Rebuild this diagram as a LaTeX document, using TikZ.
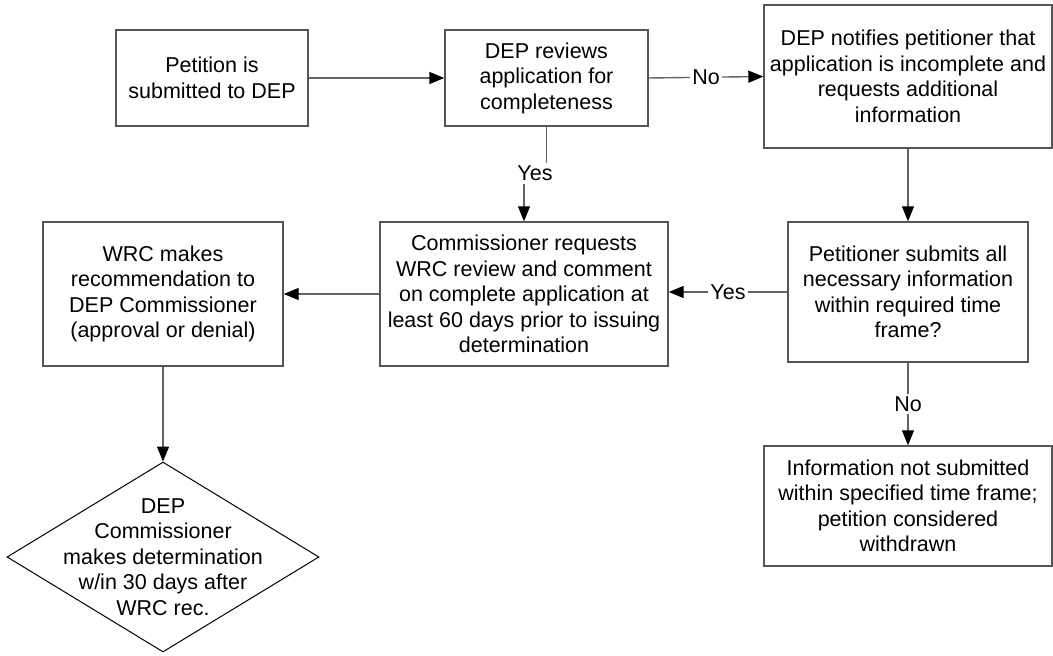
\documentclass[tikz,border=0pt]{standalone}
\usepackage{fontspec}
\setmainfont{Liberation Sans}
\usetikzlibrary{arrows.meta,shapes.geometric}
\definecolor{boxgray}{RGB}{85,85,85}
\definecolor{linegray}{RGB}{100,100,100}
\tikzset{
  box/.style={draw=boxgray, line width=1.4pt, align=center, inner sep=0pt,
    font=\fontsize{21.5}{25.5}\selectfont, text=black},
  txt/.style={align=center, inner sep=0pt, font=\fontsize{21.5}{25.5}\selectfont, text=black},
  conn/.style={draw=linegray, line width=1.4pt, -{Triangle[length=15pt,width=12pt,color=black]}},
  plain/.style={draw=linegray, line width=1.4pt},
  lbl/.style={fill=white, inner sep=2.5pt, font=\fontsize{21.5}{25.5}\selectfont, text=black},
}
\begin{document}
\begin{tikzpicture}[x=1pt,y=-1pt]
\useasboundingbox (0,0) rectangle (1053,656);

\node[box, minimum width=192pt, minimum height=96pt] (b1) at (212,78)
  {Petition is\\submitted to DEP};
\node[box, minimum width=203pt, minimum height=96pt] (b2) at (546.5,78)
  {DEP reviews\\application for\\completeness};
\node[box, minimum width=288pt, minimum height=143pt] (b3) at (908,76.5)
  {DEP notifies petitioner that\\application is incomplete and\\requests additional\\information};
\node[box, minimum width=240pt, minimum height=140pt] (b4) at (908,292)
  {Petitioner submits all\\necessary information\\within required time\\frame?};
\node[box, minimum width=288pt, minimum height=120pt] (b5) at (908,506)
  {Information not submitted\\within specified time frame;\\petition considered\\withdrawn};
\node[box, minimum width=288pt, minimum height=144pt] (b6) at (524,294)
  {Commissioner requests\\WRC review and comment\\on complete application at\\least 60 days prior to issuing\\determination};
\node[box, minimum width=240pt, minimum height=144pt] (b7) at (163,294)
  {WRC makes\\recommendation to\\DEP Commissioner\\(approval or denial)};
\node[diamond, draw=black, line width=1pt, minimum width=312pt, minimum height=190pt,
  inner sep=0pt] (dia) at (163,557) {};
\node[txt] (diat) at (dia.center)
  {DEP\\Commissioner\\makes determination\\w/in 30 days after\\WRC rec.};

% connectors
\draw[conn] (b1.east) -- (b2.west);
\draw[conn] (b2.east) -- node[lbl] (lno1) {No} (b3.west);
\draw[conn] (b3.south) -- (b4.north);
\draw[conn] (b2.south) -- ++(0,47) -| (b6.north);
\node[lbl, inner sep=3pt] (lyes1) at (535,173) {Yes};
\draw[conn] (b4.west) -- node[lbl] (lyes2) {Yes} (b4.west -| b6.east);
\draw[conn] (b4.south) -- node[lbl] (lno2) {No} (b5.north);
\draw[conn] (b6.west) -- (b7.east);
\draw[conn] (b7.south) -- (dia.north);
\end{tikzpicture}
\end{document}
